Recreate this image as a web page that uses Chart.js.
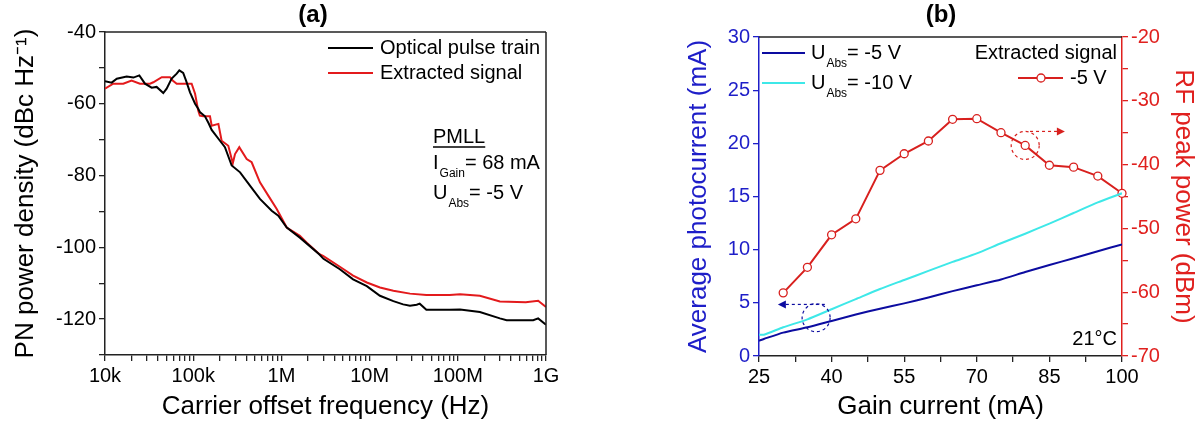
<!DOCTYPE html>
<html>
<head>
<meta charset="utf-8">
<script src="https://cdn.jsdelivr.net/npm/chart.js@4.4.0/dist/chart.umd.min.js"></script>
<style>
  html, body { margin: 0; padding: 0; background: #fff; }
  #wrap { position: relative; width: 1199px; height: 425px; }
  #boxA { position: absolute; left: 0; top: 0; width: 600px; height: 425px; }
  #boxB { position: absolute; left: 600px; top: 0; width: 599px; height: 425px; }
</style>
</head>
<body>
<div id="wrap">
  <div id="boxA"><canvas id="chartA" width="600" height="425"></canvas></div>
  <div id="boxB"><canvas id="chartB" width="599" height="425"></canvas></div>
</div>
<script>
// ---- panel (a): phase noise ----
const opticalFreq = [1e4, 1.19e4, 1.36e4, 1.76e4, 2.1e4, 2.45e4, 2.84e4, 3.38e4, 3.85e4, 4.58e4, 5e4, 5.7e4, 6.5e4, 6.96e4, 7.7e4, 8.28e4, 9.2e4,
  1.05e5, 1.14e5, 1.19e5, 1.36e5, 1.5e5, 1.62e5, 2.01e5, 2.29e5, 2.73e5, 3.4e5, 4.4e5, 5.71e5, 7.76e5, 9.22e5,
  1.15e6, 1.62e6, 2.3e6, 2.7e6, 3e6, 4.6e6, 6.5e6, 9.3e6, 1.31e7, 1.86e7, 2.4e7, 2.87e7, 3.42e7, 3.7e7, 4.4e7,
  8.1e7, 1.06e8, 1.78e8, 3e8, 3.58e8, 7.16e8, 8.15e8, 1e9];
const opticalDbc = [-53.7, -54.1, -53.0, -52.4, -52.7, -52.1, -54.4, -55.5, -55.3, -57.0, -55.8, -53.0, -51.6, -50.7, -51.4, -53.5, -56.8,
  -60.0, -61.4, -62.3, -63.5, -65.5, -67.3, -70.3, -72.1, -77.2, -79.1, -82.8, -86.5, -89.8, -91.2,
  -94.5, -97.3, -100.5, -102.0, -103.2, -106.1, -108.9, -110.8, -113.5, -115.0, -115.9, -116.3, -116.0, -115.7, -117.4,
  -117.4, -117.3, -118.0, -119.8, -120.3, -120.3, -119.8, -121.6];

const extractedFreq = [1e4, 1.24e4, 1.61e4, 2e4, 2.49e4, 3.24e4, 3.53e4, 4.4e4, 5.46e4, 5.85e4, 6.5e4, 8.07e4, 9.6e4,
  1.05e5, 1.14e5, 1.19e5, 1.3e5, 1.55e5, 1.62e5, 1.93e5, 2.1e5, 2.5e5, 2.81e5, 2.98e5, 3.33e5, 4.04e5, 4.6e5, 5.71e5, 7.1e5, 8.85e5,
  1.15e6, 1.62e6, 1.94e6, 2.7e6, 2.97e6, 4.6e6, 6.5e6, 9.3e6, 1.31e7, 1.86e7, 2.87e7, 4.4e7,
  8.1e7, 1.06e8, 1.78e8, 3e8, 5.89e8, 8.15e8, 1e9];
const extractedDbc = [-55.8, -54.4, -54.4, -53.5, -54.4, -54.4, -54.0, -52.6, -52.6, -53.5, -54.4, -54.4, -54.4,
  -57.2, -61.9, -63.3, -63.5, -63.5, -66.1, -65.6, -70.3, -71.7, -76.6, -74.0, -72.1, -75.4, -76.3, -81.9, -85.6, -89.3,
  -94.5, -96.8, -98.7, -101.9, -102.4, -105.4, -107.9, -109.8, -111.2, -112.1, -112.9, -113.3,
  -113.3, -113.1, -113.5, -115.1, -115.3, -114.9, -116.6];

const freqMajorTicks = [1e4, 1e5, 1e6, 1e7, 1e8, 1e9];
const freqTickLabels = ["10k", "100k", "1M", "10M", "100M", "1G"];

// ---- panel (b): photocurrent and RF power vs gain current ----
const gainLine = [25, 26, 30, 35, 40, 45, 50, 55, 60, 65, 70, 75, 80, 85, 90, 95, 100];
const photo5V = [1.44, 1.6, 2.2, 2.7, 3.3, 3.9, 4.45, 4.95, 5.5, 6.1, 6.65, 7.2, 7.9, 8.55, 9.2, 9.85, 10.5];
const photo10V = [2.0, 2.0, 2.7, 3.45, 4.4, 5.35, 6.3, 7.15, 8.0, 8.85, 9.65, 10.6, 11.5, 12.45, 13.45, 14.45, 15.3];

const gainRf = [30, 35, 40, 45, 50, 55, 60, 65, 70, 75, 80, 85, 90, 95, 100];
const rfPower = [-60.1, -56.1, -51.0, -48.5, -40.9, -38.3, -36.3, -32.9, -32.8, -35.0, -37.0, -40.1, -40.4, -41.8, -44.5];

const FONT = "'Liberation Sans', Arial, sans-serif";
Chart.defaults.font.family = FONT;
Chart.defaults.color = "#000";

const BLUE_AXIS = "#1e1ec8";
const RED_AXIS = "#e0201e";
const RED_LINE = "#d8201e";
const NAVY = "#0c0ca0";
const CYAN = "#3ee8e8";

const toXY = (xs, ys) => xs.map((x, i) => ({ x: x, y: ys[i] }));

function subText(ctx, x, y, main, sub, rest, size, color) {
    ctx.save();
    ctx.fillStyle = color || "#000";
    ctx.textBaseline = "middle";
    ctx.textAlign = "left";
    ctx.font = size + "px " + FONT;
    ctx.fillText(main, x, y);
    let cx = x + ctx.measureText(main).width + 1;
    ctx.font = Math.round(size * 0.62) + "px " + FONT;
    ctx.fillText(sub, cx, y + size * 0.52);
    cx += ctx.measureText(sub).width;
    ctx.font = size + "px " + FONT;
    ctx.fillText(rest, cx, y);
    ctx.restore();
}

function line(ctx, x1, y1, x2, y2, color, width, dash) {
    ctx.save();
    ctx.strokeStyle = color;
    ctx.lineWidth = width;
    ctx.setLineDash(dash || []);
    ctx.beginPath();
    ctx.moveTo(x1, y1);
    ctx.lineTo(x2, y2);
    ctx.stroke();
    ctx.restore();
}

function panelLabel(chart, text, cx) {
    const ctx = chart.ctx;
    ctx.save();
    ctx.font = "bold 24px " + FONT;
    ctx.fillStyle = "#000";
    ctx.textAlign = "center";
    ctx.textBaseline = "middle";
    ctx.fillText(text, cx, 15);
    ctx.restore();
}

const decoA = {
    id: "decoA",
    afterDraw(chart) {
        const ctx = chart.ctx;
        const a = chart.chartArea;
        line(ctx, a.left, a.top, a.right, a.top, "#222", 1.5);
        line(ctx, a.right, a.top, a.right, a.bottom, "#222", 1.5);
        panelLabel(chart, "(a)", 313);

        ctx.save();
        ctx.font = "20px " + FONT;
        ctx.textBaseline = "middle";
        ctx.fillStyle = "#000";
        line(ctx, 328, 48, 373, 48, "#000", 2);
        ctx.fillText("Optical pulse train", 380, 48);
        line(ctx, 328, 73, 373, 73, "#e31a1c", 2);
        ctx.fillText("Extracted signal", 380, 73);

        ctx.fillText("PMLL", 433, 137);
        const w = ctx.measureText("PMLL").width;
        line(ctx, 433, 147, 433 + w, 147, "#000", 1.3);
        ctx.restore();
        subText(ctx, 433, 163, "I", "Gain", "= 68 mA", 20);
        subText(ctx, 433, 193, "U", "Abs", "= -5 V", 20);
    }
};

const decoB = {
    id: "decoB",
    afterDraw(chart) {
        const ctx = chart.ctx;
        const a = chart.chartArea;
        const sx = chart.scales.x, sy = chart.scales.y, sr = chart.scales.y2;
        line(ctx, a.left, a.top, a.right, a.top, "#222", 1.5);
        const ox = -600;
        panelLabel(chart, "(b)", 941 + ox);

        line(ctx, 762 + ox, 53, 805 + ox, 53, NAVY, 2);
        subText(ctx, 811 + ox, 53, "U", "Abs", "= -5 V", 20);
        line(ctx, 762 + ox, 83, 805 + ox, 83, CYAN, 2);
        subText(ctx, 811 + ox, 83, "U", "Abs", "= -10 V", 20);

        ctx.save();
        ctx.font = "20px " + FONT;
        ctx.textBaseline = "middle";
        ctx.fillStyle = "#000";
        ctx.textAlign = "right";
        ctx.fillText("Extracted signal", 1117 + ox, 53);
        ctx.fillText("21°C", 1117 + ox, 339);
        ctx.textAlign = "left";
        ctx.fillText("-5 V", 1070 + ox, 78);
        ctx.restore();
        line(ctx, 1018 + ox, 78, 1063 + ox, 78, RED_LINE, 2);
        ctx.save();
        ctx.beginPath();
        ctx.arc(1041 + ox, 78, 4, 0, Math.PI * 2);
        ctx.fillStyle = "#fff";
        ctx.fill();
        ctx.strokeStyle = RED_LINE;
        ctx.lineWidth = 1.3;
        ctx.stroke();
        ctx.restore();

        // dashed pointer circles
        ctx.save();
        ctx.setLineDash([3, 3]);
        ctx.lineWidth = 1.2;
        ctx.strokeStyle = NAVY;
        ctx.beginPath();
        ctx.ellipse(sx.getPixelForValue(36.8), sy.getPixelForValue(3.6), 14, 14, 0, 0, Math.PI * 2);
        ctx.stroke();
        const by = sy.getPixelForValue(4.85);
        ctx.beginPath();
        ctx.moveTo(sx.getPixelForValue(38.6), by);
        ctx.lineTo(sx.getPixelForValue(30.2), by);
        ctx.stroke();
        ctx.strokeStyle = RED_LINE;
        ctx.beginPath();
        ctx.ellipse(sx.getPixelForValue(80), sr.getPixelForValue(-37.0), 14, 14, 0, 0, Math.PI * 2);
        ctx.stroke();
        const ry = sr.getPixelForValue(-34.8);
        ctx.beginPath();
        ctx.moveTo(sx.getPixelForValue(81), ry);
        ctx.lineTo(sx.getPixelForValue(86.8), ry);
        ctx.stroke();
        ctx.setLineDash([]);
        // arrow heads
        let tx = sx.getPixelForValue(28.9);
        ctx.fillStyle = NAVY;
        ctx.beginPath();
        ctx.moveTo(tx, by);
        ctx.lineTo(tx + 8, by - 4);
        ctx.lineTo(tx + 8, by + 4);
        ctx.closePath();
        ctx.fill();
        tx = sx.getPixelForValue(88.2);
        ctx.fillStyle = RED_LINE;
        ctx.beginPath();
        ctx.moveTo(tx, ry);
        ctx.lineTo(tx - 8, ry - 4);
        ctx.lineTo(tx - 8, ry + 4);
        ctx.closePath();
        ctx.fill();
        ctx.restore();
    }
};

const axisGrid = (color) => ({
    drawOnChartArea: false,
    drawTicks: true,
    tickLength: 6,
    color: color,
    lineWidth: 1.3,
});

new Chart(document.getElementById("chartA"), {
    type: "line",
    data: {
        datasets: [
            {
                label: "Optical pulse train",
                data: toXY(opticalFreq, opticalDbc),
                borderColor: "#000",
                borderWidth: 2,
                pointRadius: 0,
                tension: 0,
            },
            {
                label: "Extracted signal",
                data: toXY(extractedFreq, extractedDbc),
                borderColor: "#e31a1c",
                borderWidth: 2,
                pointRadius: 0,
                tension: 0,
            },
        ],
    },
    options: {
        responsive: false,
        animation: false,
        devicePixelRatio: 1,
        layout: { padding: { left: 0, right: 54, top: 32, bottom: 0 } },
        plugins: { legend: { display: false }, tooltip: { enabled: false } },
        scales: {
            x: {
                type: "logarithmic",
                min: 1e4,
                max: 1e9,
                afterBuildTicks(scale) {
                    const vals = [];
                    freqMajorTicks.forEach((m, i) => {
                        vals.push(m);
                        if (i < freqMajorTicks.length - 1) {
                            for (let k = 2; k <= 9; k++) vals.push(m * k);
                        }
                    });
                    scale.ticks = vals.map((v) => ({ value: v }));
                },
                afterFit(scale) { scale.height = 70; },
                grid: axisGrid("#222"),
                border: { color: "#222", width: 1.5 },
                ticks: {
                    autoSkip: false,
                    maxRotation: 0,
                    padding: 3,
                    color: "#000",
                    font: { size: 20 },
                    callback(v) {
                        const i = freqMajorTicks.indexOf(v);
                        return i >= 0 ? freqTickLabels[i] : "";
                    },
                },
                title: {
                    display: true,
                    text: "Carrier offset frequency (Hz)",
                    color: "#000",
                    font: { size: 26 },
                    padding: { top: 0, bottom: 3 },
                },
            },
            y: {
                min: -130,
                max: -40,
                afterFit(scale) { scale.width = 105; },
                grid: axisGrid("#222"),
                border: { color: "#222", width: 1.5 },
                ticks: {
                    stepSize: 10,
                    padding: 3,
                    color: "#000",
                    font: { size: 20 },
                    callback: (v) => ((v + 40) % 20 === 0 ? v : ""),
                },
                title: {
                    display: true,
                    text: "PN power density (dBc Hz⁻¹)",
                    color: "#000",
                    font: { size: 26 },
                    padding: { top: 10, bottom: 0 },
                },
            },
        },
    },
    plugins: [decoA],
});

new Chart(document.getElementById("chartB"), {
    type: "line",
    data: {
        datasets: [
            {
                label: "UAbs = -5 V",
                data: toXY(gainLine, photo5V),
                borderColor: NAVY,
                borderWidth: 2,
                pointRadius: 0,
                tension: 0.2,
                yAxisID: "y",
            },
            {
                label: "UAbs = -10 V",
                data: toXY(gainLine, photo10V),
                borderColor: CYAN,
                borderWidth: 2,
                pointRadius: 0,
                tension: 0.2,
                yAxisID: "y",
            },
            {
                label: "-5 V",
                data: toXY(gainRf, rfPower),
                borderColor: RED_LINE,
                borderWidth: 2,
                pointRadius: 4,
                pointBorderWidth: 1.3,
                pointBackgroundColor: "#fff",
                pointBorderColor: RED_LINE,
                tension: 0,
                yAxisID: "y2",
                clip: false,
            },
        ],
    },
    options: {
        responsive: false,
        animation: false,
        devicePixelRatio: 1,
        layout: { padding: { left: 0, right: 0, top: 37, bottom: 0 } },
        plugins: { legend: { display: false }, tooltip: { enabled: false } },
        scales: {
            x: {
                type: "linear",
                min: 25,
                max: 100,
                afterFit(scale) { scale.height = 69; },
                grid: axisGrid("#222"),
                border: { color: "#222", width: 1.5 },
                ticks: {
                    stepSize: 7.5,
                    autoSkip: false,
                    maxRotation: 0,
                    padding: 3,
                    color: "#000",
                    font: { size: 20 },
                    callback: (v) => ((v - 25) % 15 === 0 ? v : ""),
                },
                title: {
                    display: true,
                    text: "Gain current (mA)",
                    color: "#000",
                    font: { size: 26 },
                    padding: { top: 0, bottom: 3 },
                },
            },
            y: {
                position: "left",
                min: 0,
                max: 30,
                afterFit(scale) { scale.width = 159; },
                grid: axisGrid(BLUE_AXIS),
                border: { color: BLUE_AXIS, width: 1.5 },
                ticks: {
                    stepSize: 2.5,
                    padding: 3,
                    color: BLUE_AXIS,
                    font: { size: 20 },
                    callback: (v) => (v % 5 === 0 ? v : ""),
                },
                title: {
                    display: true,
                    text: "Average photocurrent (mA)",
                    color: BLUE_AXIS,
                    font: { size: 26 },
                    padding: { top: 83, bottom: 0 },
                },
            },
            y2: {
                position: "right",
                min: -70,
                max: -20,
                afterFit(scale) { scale.width = 77; },
                grid: axisGrid(RED_AXIS),
                border: { color: RED_AXIS, width: 1.5 },
                ticks: {
                    stepSize: 5,
                    padding: 3,
                    color: RED_AXIS,
                    font: { size: 20 },
                    callback: (v) => (v % 10 === 0 ? v : ""),
                },
                title: {
                    display: true,
                    text: "RF peak power (dBm)",
                    color: RED_AXIS,
                    font: { size: 26 },
                    padding: { top: 0, bottom: 0 },
                },
            },
        },
    },
    plugins: [decoB],
});
</script>
</body>
</html>
